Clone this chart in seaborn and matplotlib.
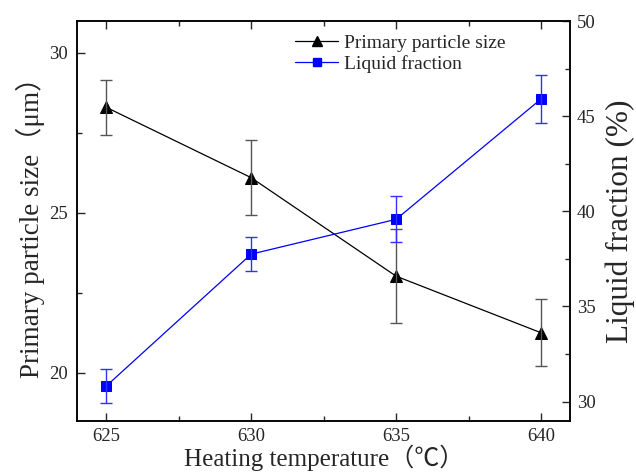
import matplotlib
matplotlib.use("Agg")
import matplotlib.pyplot as plt
import seaborn as sns
import pandas as pd
from matplotlib.ticker import MultipleLocator
from matplotlib.lines import Line2D

temperature = [625, 630, 635, 640]
particle_size = [28.30, 26.10, 23.02, 21.25]
particle_err = [0.85, 1.18, 1.46, 1.05]
liquid_fraction = [30.82, 37.75, 39.58, 45.90]
liquid_err = [0.88, 0.90, 1.20, 1.25]

sns.set_theme(style="ticks")
plt.rcParams['font.family'] = ['Liberation Serif', 'Noto Sans CJK SC', 'DejaVu Sans']

df = pd.DataFrame({"T": temperature, "size": particle_size, "lf": liquid_fraction})

fig = plt.figure(figsize=(6.36, 4.73), dpi=100)
ax = fig.add_axes([0.1215, 0.1106, 0.7747, 0.845])
ax2 = ax.twinx()

sns.lineplot(data=df, x="T", y="size", ax=ax, color="black", marker="^",
             markersize=8, linewidth=0.9, markeredgecolor="black")
ax.errorbar(temperature, particle_size, yerr=particle_err, fmt="none",
            ecolor="#555555", elinewidth=1.0, capsize=4, capthick=1.0)

sns.lineplot(data=df, x="T", y="lf", ax=ax2, color="#0000ff", marker="s",
             markersize=6.5, linewidth=0.9, markeredgecolor="#0000ff")
ax2.errorbar(temperature, liquid_fraction, yerr=liquid_err, fmt="none",
             ecolor="#3030ff", elinewidth=1.0, capsize=4, capthick=1.0)

ax.set_xlim(624, 641)
ax.set_ylim(18.5, 31)
ax2.set_ylim(29, 50)

ax.xaxis.set_major_locator(MultipleLocator(5))
ax.xaxis.set_minor_locator(MultipleLocator(2.5))
ax.yaxis.set_major_locator(MultipleLocator(5))
ax.yaxis.set_minor_locator(MultipleLocator(2.5))
ax2.yaxis.set_major_locator(MultipleLocator(5))
ax2.yaxis.set_minor_locator(MultipleLocator(2.5))

for a in (ax, ax2):
    for s in a.spines.values():
        s.set_linewidth(1.1)
        s.set_color("black")
ax.tick_params(axis="x", which="both", direction="in", top=True, bottom=True,
               labelsize=13.5, pad=5)
ax.tick_params(axis="y", which="both", direction="in", left=True, right=False,
               labelsize=13.5, pad=7)
ax.tick_params(which="major", length=6, width=1.0)
ax.tick_params(which="minor", length=3.5, width=1.0)
ax2.tick_params(axis="y", which="both", direction="in", right=True, left=False,
                labelsize=13.5, pad=5)
ax2.tick_params(which="major", length=6, width=1.0)
ax2.tick_params(which="minor", length=3.5, width=1.0)

ax.set_xlabel("Heating temperature（℃）", fontsize=18, labelpad=0)
ax.set_ylabel("Primary particle size（μm）", fontsize=19.5, labelpad=3)
ax2.set_ylabel("Liquid fraction (%)", fontsize=22.5, labelpad=7)

handles = [
    Line2D([], [], color="black", marker="^", markersize=7, linewidth=0.9),
    Line2D([], [], color="#0000ff", marker="s", markersize=5.5, linewidth=0.9),
]
ax.legend(handles, ["Primary particle size", "Liquid fraction"], loc="upper left",
          bbox_to_anchor=(0.415, 1.0), frameon=False, fontsize=14,
          handlelength=2.2, handletextpad=0.3, labelspacing=0.15, borderpad=0.2)

fig.savefig("out.png", dpi=100)
